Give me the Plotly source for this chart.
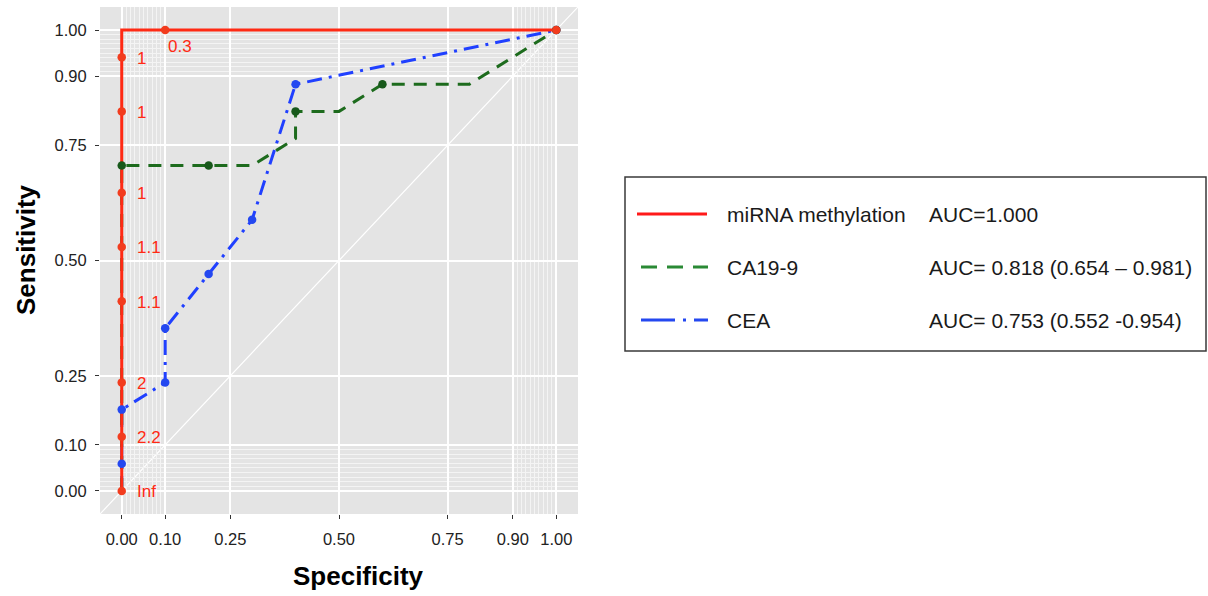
import plotly.graph_objects as go

# ---------------- data ----------------
# False positive fraction (labelled "Specificity") and sensitivity, per marker
mirna_x = [0.0, 0.0, 0.0, 0.0, 0.0, 0.0, 0.0, 0.0, 0.0, 0.1, 1.0]
mirna_y = [0/17, 2/17, 4/17, 7/17, 9/17, 11/17, 14/17, 16/17, 1.0, 1.0, 1.0]
mirna_pts_x = [0.0, 0.0, 0.0, 0.0, 0.0, 0.0, 0.0, 0.0, 0.1, 1.0]
mirna_pts_y = [0/17, 2/17, 4/17, 7/17, 9/17, 11/17, 14/17, 16/17, 1.0, 1.0]
mirna_cut_labels = ["Inf", "2.2", "2", "1.1", "1.1", "1", "1", "1", "0.3", ""]

ca199_x = [0.0, 0.0, 0.2, 0.3, 0.4, 0.4, 0.5, 0.6, 0.8, 0.9, 1.0]
ca199_y = [0.0, 12/17, 12/17, 12/17, 13/17, 14/17, 14/17, 15/17, 15/17, 16/17, 1.0]
ca199_pts_x = [0.0, 0.2, 0.4, 0.6, 1.0]
ca199_pts_y = [12/17, 12/17, 14/17, 15/17, 1.0]

cea_x = [0.0, 0.0, 0.0, 0.1, 0.1, 0.2, 0.3, 0.4, 1.0]
cea_y = [0.0, 1/17, 3/17, 4/17, 6/17, 8/17, 10/17, 15/17, 1.0]
cea_pts_x = [0.0, 0.0, 0.1, 0.1, 0.2, 0.3, 0.4, 1.0]
cea_pts_y = [1/17, 3/17, 4/17, 6/17, 8/17, 10/17, 15/17, 1.0]

series_names = ["miRNA methylation", "CA19-9", "CEA"]
auc_texts = ["AUC=1.000", "AUC= 0.818 (0.654 \u2013 0.981)", "AUC= 0.753 (0.552 -0.954)"]

major_ticks = [0.0, 0.1, 0.25, 0.5, 0.75, 0.9, 1.0]
major_labels = ["0.00", "0.10", "0.25", "0.50", "0.75", "0.90", "1.00"]
minor_ticks = [round(i / 100, 2) for i in range(1, 10)] + [round(0.9 + i / 100, 2) for i in range(1, 10)]

# ---------------- styling ----------------
W, H = 1208, 596
ML, MR, MT, MB = 100, 630, 7, 82
AX_RANGE = [-0.05, 1.05]
FONT = "Liberation Sans, Arial, Helvetica, sans-serif"

RED_LINE = "#FF2A14"
RED_PT = "#F23C1E"
GREEN_LINE = "#1D6B1D"
GREEN_PT = "#17581A"
BLUE_LINE = "#2040FF"
BLUE_PT = "#2448F0"

pw = W - ML - MR
ph = H - MT - MB


def px_x(p):
    return (p - ML) / pw


def px_y(p):
    return (H - MB - p) / ph


fig = go.Figure()

# lines
fig.add_trace(go.Scatter(x=cea_x, y=cea_y, mode="lines",
                         line=dict(color=BLUE_LINE, width=3, dash="15px,7px,3px,7px"),
                         hoverinfo="skip", showlegend=False))
fig.add_trace(go.Scatter(x=ca199_x, y=ca199_y, mode="lines",
                         line=dict(color=GREEN_LINE, width=3, dash="13px,9px"),
                         hoverinfo="skip", showlegend=False))
fig.add_trace(go.Scatter(x=mirna_x, y=mirna_y, mode="lines",
                         line=dict(color=RED_LINE, width=3),
                         hoverinfo="skip", showlegend=False))
# points
fig.add_trace(go.Scatter(x=cea_pts_x, y=cea_pts_y, mode="markers",
                         marker=dict(color=BLUE_PT, size=8.5), showlegend=False))
fig.add_trace(go.Scatter(x=ca199_pts_x, y=ca199_pts_y, mode="markers",
                         marker=dict(color=GREEN_PT, size=8.5), showlegend=False))
fig.add_trace(go.Scatter(x=mirna_pts_x, y=mirna_pts_y, mode="markers",
                         marker=dict(color=RED_PT, size=8.5), showlegend=False))

# cutoff labels
for xv, yv, lab in zip(mirna_pts_x, mirna_pts_y, mirna_cut_labels):
    if not lab:
        continue
    if yv >= 1.0:
        xs, ys = 1, -16
    else:
        xs, ys = 13, -1
    fig.add_annotation(x=xv, y=yv, xref="x", yref="y", text=lab, showarrow=False,
                       xanchor="left", yanchor="middle", xshift=xs, yshift=ys,
                       font=dict(family=FONT, size=17, color=RED_LINE))

# diagonal reference line (below data)
fig.add_shape(type="line", xref="x", yref="y", x0=AX_RANGE[0], y0=AX_RANGE[0],
              x1=AX_RANGE[1], y1=AX_RANGE[1], line=dict(color="white", width=1.2), layer="below")

# axis titles
fig.add_annotation(x=px_x(358), y=px_y(576), xref="paper", yref="paper", text="<b>Specificity</b>",
                   showarrow=False, xanchor="center", yanchor="middle",
                   font=dict(family=FONT, size=26, color="black"))
fig.add_annotation(x=px_x(26), y=px_y(250), xref="paper", yref="paper", text="<b>Sensitivity</b>",
                   showarrow=False, xanchor="center", yanchor="middle", textangle=-90,
                   font=dict(family=FONT, size=26, color="black"))

# legend box
fig.add_shape(type="rect", xref="paper", yref="paper", x0=px_x(625), x1=px_x(1206),
              y0=px_y(351), y1=px_y(177), line=dict(color="#3A3A3A", width=1.5),
              fillcolor="white", layer="above")
legend_rows = [
    (214, "#FF1A1A", "solid", 637, 707),
    (267, "#2A8A35", "16px,10px", 641, 708),
    (320, "#2448F0", "34px,8px,3px,8px", 641, 708),
]
for (yy, col, dash, xa, xb), name, auc in zip(legend_rows, series_names, auc_texts):
    fig.add_shape(type="line", xref="paper", yref="paper", x0=px_x(xa), x1=px_x(xb),
                  y0=px_y(yy), y1=px_y(yy), line=dict(color=col, width=3, dash=dash), layer="above")
    fig.add_annotation(x=px_x(725), y=px_y(yy), xref="paper", yref="paper", text=name,
                       showarrow=False, xanchor="left", yanchor="middle",
                       font=dict(family=FONT, size=21, color="#1A1A1A"))
    fig.add_annotation(x=px_x(927), y=px_y(yy), xref="paper", yref="paper", text=auc,
                       showarrow=False, xanchor="left", yanchor="middle",
                       font=dict(family=FONT, size=21, color="#1A1A1A"))

axis_common = dict(
    range=AX_RANGE, tickmode="array", tickvals=major_ticks, ticktext=major_labels,
    showgrid=True, gridcolor="white", gridwidth=1.6, zeroline=False,
    ticks="outside", ticklen=4, tickwidth=1.2, tickcolor="#333333",
    tickfont=dict(family=FONT, size=16.5, color="#222222"),
    minor=dict(tickmode="array", tickvals=minor_ticks, showgrid=True,
               gridcolor="#F4F4F4", gridwidth=0.8, ticks=""),
    showline=False, fixedrange=True,
)

fig.update_layout(
    width=W, height=H,
    margin=dict(l=ML, r=MR, t=MT, b=MB, pad=0),
    paper_bgcolor="white", plot_bgcolor="#E4E4E4",
    xaxis=dict(**axis_common, ticklabelstandoff=6),
    yaxis=dict(**axis_common, ticklabelstandoff=5),
    showlegend=False,
)

fig.write_html("out.html")
